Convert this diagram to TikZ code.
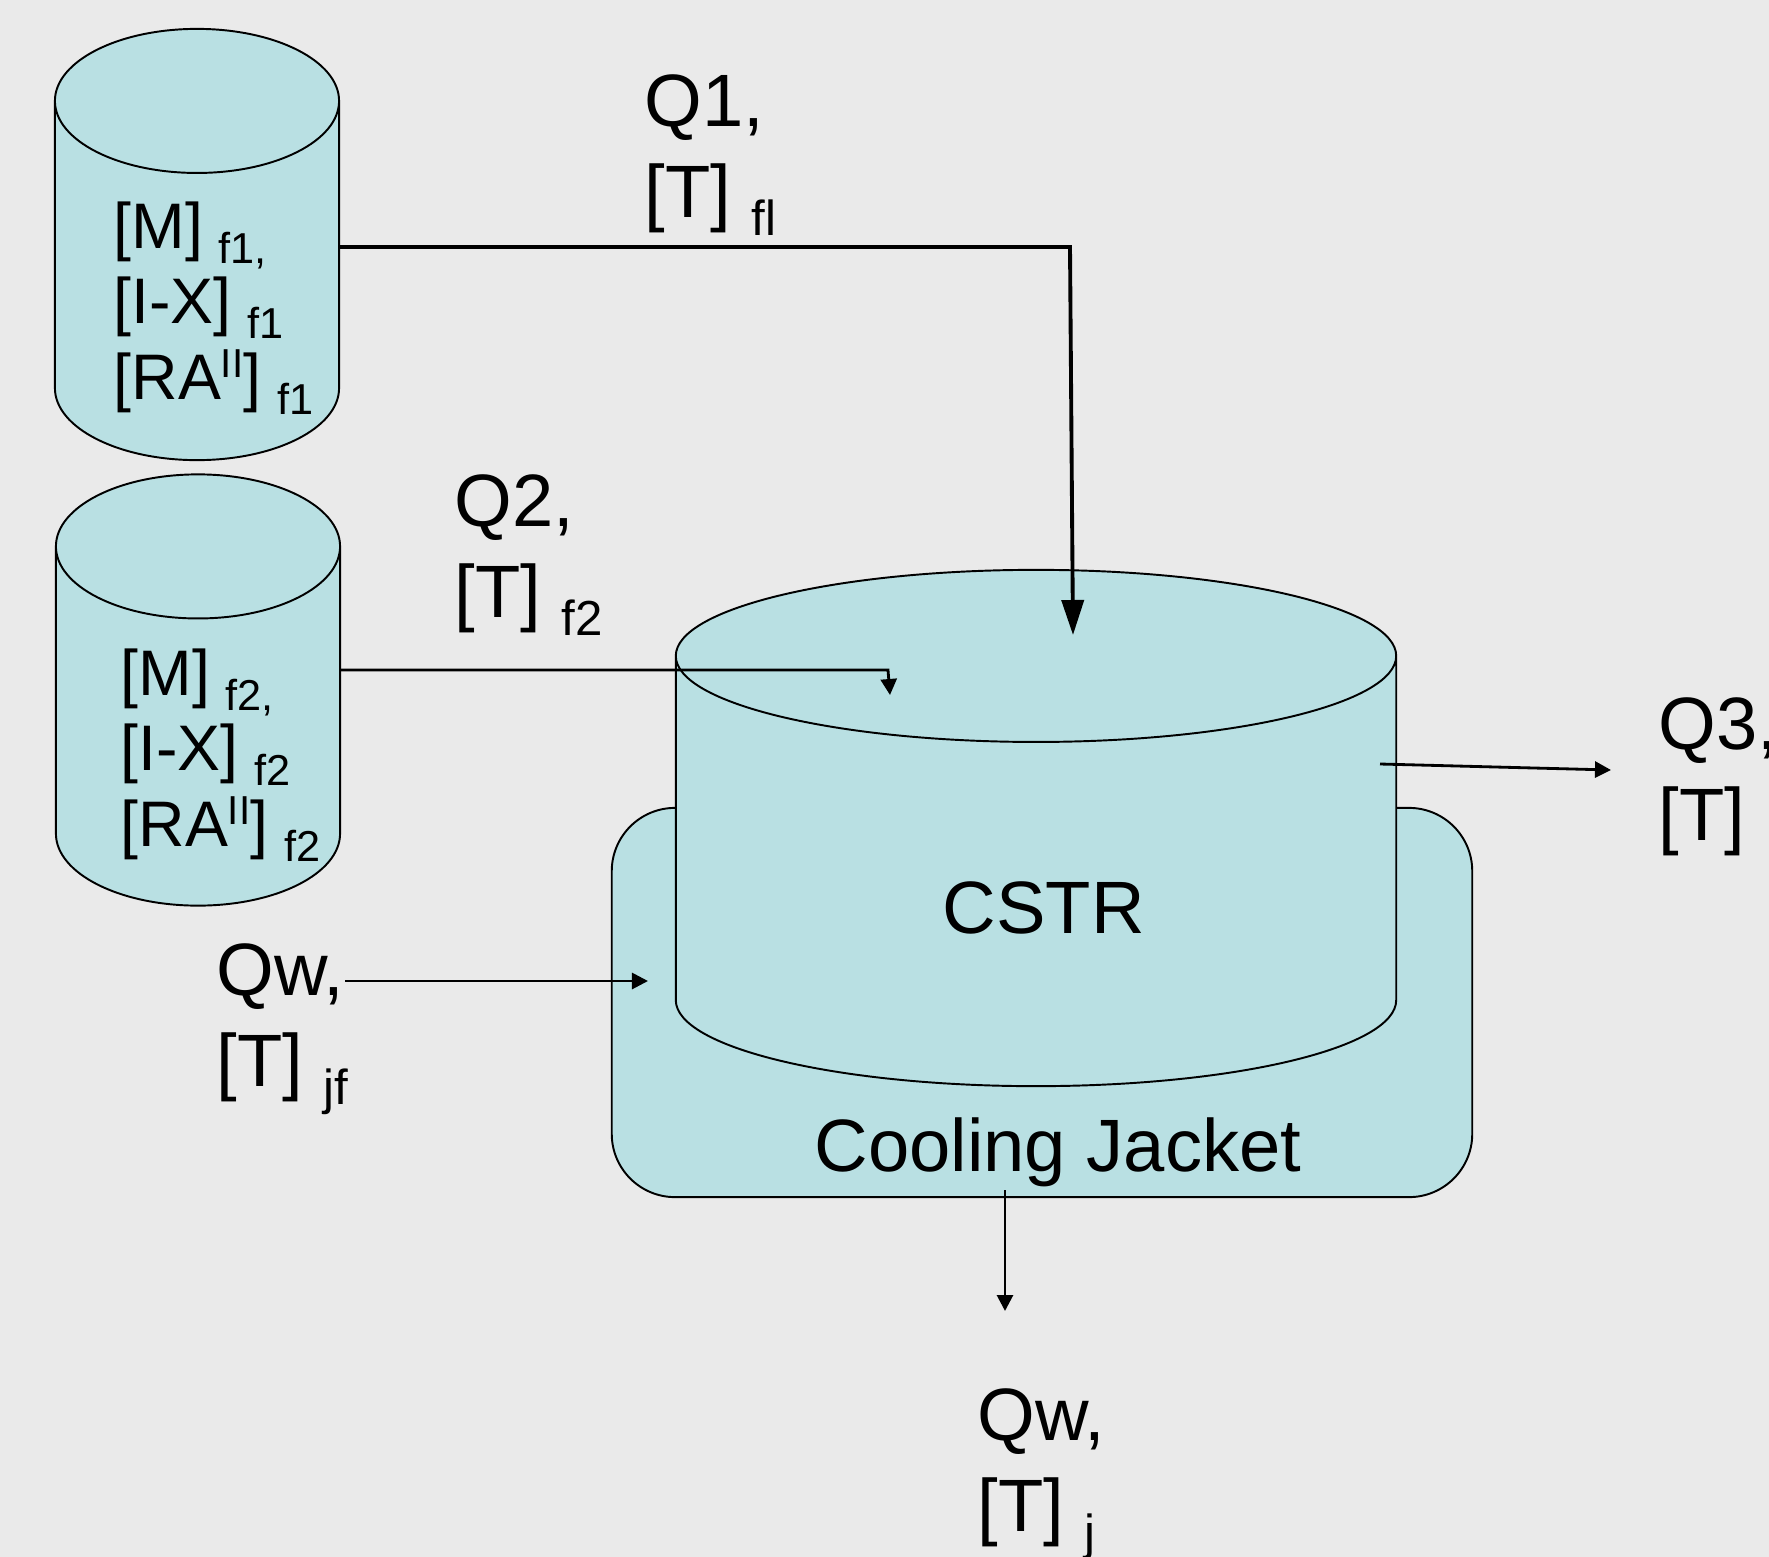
\documentclass[tikz,border=0pt]{standalone}
\usepackage{fontspec}
\setmainfont{Liberation Sans}
\usetikzlibrary{arrows.meta}
\definecolor{bggray}{HTML}{EAEAEA}
\definecolor{tankblue}{HTML}{B9E0E3}
\newcommand{\subt}[1]{\hspace{-.6pt}\raisebox{-4.2pt}{\fontsize{12.3}{13}\selectfont #1}}
\newcommand{\supt}[1]{\raisebox{6.2pt}{\fontsize{11.5}{12}\selectfont #1}}
\newcommand{\lsubt}[1]{\raisebox{-5pt}{\fontsize{14}{15}\selectfont #1}}
\newcommand{\tankshape}[3]{\draw[tankline] ([yshift=-#3]#1.north west) -- ([yshift=#3]#1.south west) arc[start angle=180,end angle=360,x radius=#2,y radius=#3] -- ([yshift=-#3]#1.north east) arc[start angle=0,end angle=180,x radius=#2,y radius=#3] arc[start angle=180,end angle=360,x radius=#2,y radius=#3];}
\tikzset{
tankline/.style={fill=tankblue, line width=.55pt},
tankbox/.style={inner sep=0pt, outer sep=0pt},
tanktext/.style={anchor=west, align=left, inner sep=0pt, font=\fontsize{18.3}{21.5}\selectfont},
flowtext/.style={anchor=west, align=left, inner sep=0pt, font=\fontsize{21.1}{25.9}\selectfont},
thinflow/.style={line width=.8pt, -{Triangle[length=16*.2845pt, width=16*.2845pt]}},
}
\begin{document}
\begin{tikzpicture}[x=0.01cm,y=-0.01cm]
\path[use as bounding box, fill=bggray] (0,0) rectangle (1769,1557);
\node[draw, fill=tankblue, line width=.55pt, rounded corners=18pt, minimum width=8.6cm, minimum height=3.89cm, inner sep=0pt] (jacket) at (1042,1002.5){};
\node[tankbox, minimum width=2.84cm, minimum height=4.31cm] (tankA) at (197,244.5){};
\node[tankbox, minimum width=2.84cm, minimum height=4.31cm] (tankB) at (198,690){};
\node[tankbox, minimum width=7.2cm, minimum height=5.16cm] (cstr) at (1036,828){};
\tankshape{tankA}{1.42cm}{.72cm}
\tankshape{tankB}{1.42cm}{.72cm}
\tankshape{cstr}{3.6cm}{.86cm}
\node[flowtext] (cstrText) at (942,908){CSTR};
\node[flowtext] (jacketText) at (814,1152){Cooling Jacket};
\node[tanktext] (feedA) at (113,308){[M] \subt{f1,}\\{}[I-X] \subt{f1}\\{}[RA\supt{II}] \subt{f1}};
\node[tanktext] (feedB) at (120,755){[M] \subt{f2,}\\{}[I-X] \subt{f2}\\{}[RA\supt{II}] \subt{f2}};
\node[flowtext] (qOne) at (644,155){Q1,\\{}[T] \lsubt{fl}};
\node[flowtext] (qTwo) at (454,555){Q2,\\{}[T] \lsubt{f2}};
\node[flowtext] (qThree) at (1658,777){Q3,\\{}[T]};
\node[flowtext] (qIn) at (216,1029){Qw,\\{}[T] \lsubt{jf}};
\node[flowtext] (qOut) at (977,1474){Qw,\\{}[T] \lsubt{j}};
\coordinate (bendA) at (1070,247);
\coordinate (tipA) at (1073,635);
\coordinate (bendB) at (888,670);
\coordinate (tipB) at (890,695);
\coordinate (startC) at (1380,764);
\coordinate (tipC) at (1611,770);
\coordinate (startIn) at (345,981);
\coordinate (tipIn) at (648,981);
\coordinate (startOut) at (1005,1190);
\coordinate (tipOut) at (1005,1311);
\draw[line width=1.1pt, -{Triangle[length=35*.2845pt, width=22*.2845pt]}](tankA.east |- bendA) -- (bendA) -- (tipA);
\draw[thinflow](tankB.east |- bendB) -- (bendB) -- (tipB);
\draw[thinflow](startC) -- (tipC);
\draw[thinflow](startIn) -- (tipIn);
\draw[thinflow](startOut) -- (tipOut);
\end{tikzpicture}
\end{document}
